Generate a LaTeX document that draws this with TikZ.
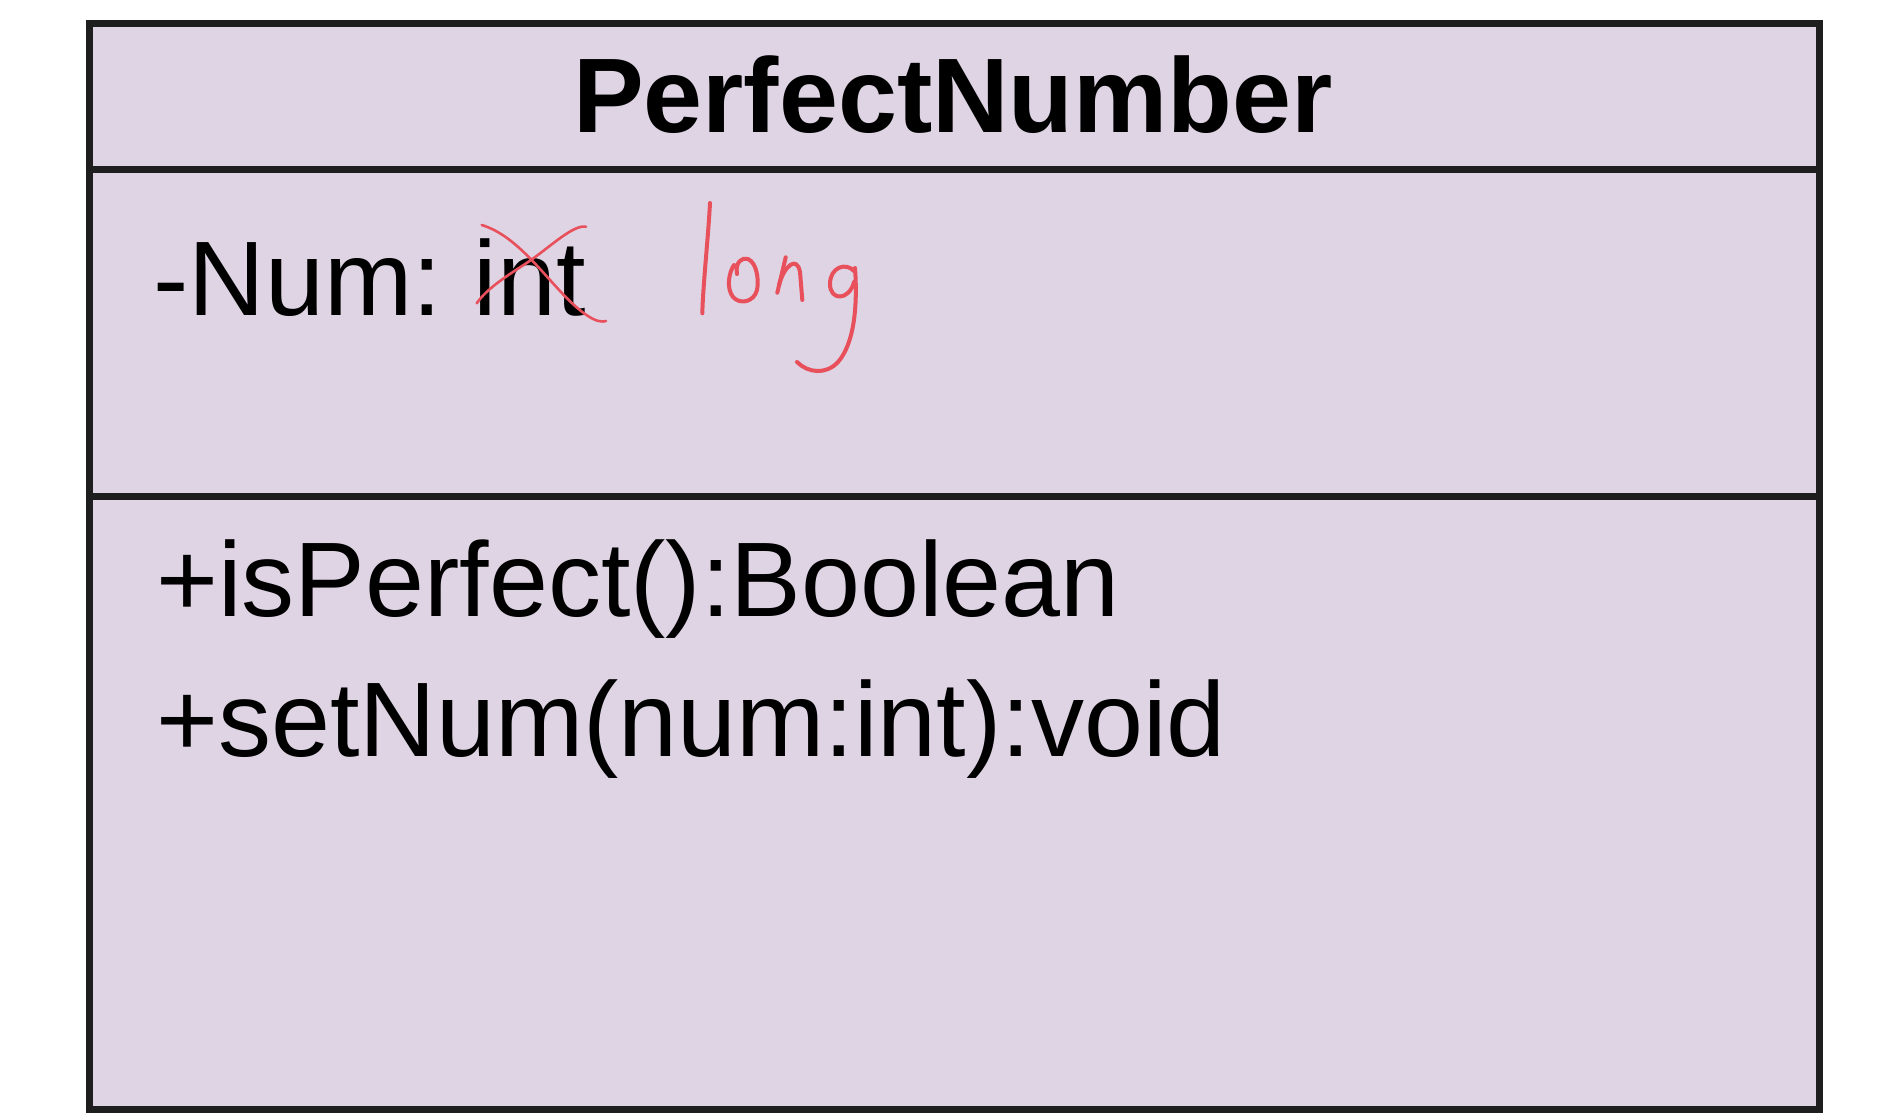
\documentclass[tikz,border=0pt]{standalone}
\usepackage{fontspec}
\setmainfont{Liberation Sans}
\definecolor{boxfill}{RGB}{223,212,228}
\definecolor{boxline}{RGB}{30,30,30}
\definecolor{pen}{RGB}{232,80,91}
\begin{document}
\begin{tikzpicture}[x=0.5pt,y=-0.5pt,
  umlbox/.style={draw=boxline,fill=boxfill,line width=3.5pt,inner sep=0pt,
     minimum width=865pt,minimum height=543pt,anchor=north west},
  divider/.style={draw=boxline,line width=3.5pt},
  member/.style={anchor=base west,inner sep=0pt,font=\fontsize{53}{60}\selectfont},
  title/.style={anchor=base,inner sep=0pt,font=\fontsize{53}{60}\selectfont\bfseries},
  ink/.style={draw=pen,line width=2pt,line cap=round,line join=round},
  thinink/.style={draw=pen,line width=1.3pt,line cap=round,line join=round}]
\useasboundingbox (0,0) rectangle (1888,1116);
\node[umlbox] (box) at (85.5,19.5) {};
\coordinate (d1l) at (85.5,169);
\coordinate (d1r) at (1815.5,169);
\coordinate (d2l) at (85.5,496);
\coordinate (d2r) at (1815.5,496);
\draw[divider] (d1l) -- (d1r);
\draw[divider] (d2l) -- (d2r);
\node[title] (name) at (953,132) {PerfectNumber};
\node[member] (attr) at (153,315) {-Num:\hspace{16pt}int};
\node[member] (op1) at (156,616) {+isPerfect():Boolean};
\node[member] (op2) at (156,756) {+setNum(num:int):void};
% cross over "int"
\draw[thinink] (481.7,225) .. controls (525,238) and (555,295) .. (588,316)
   .. controls (597,322) and (603,322) .. (606,321);
\draw[thinink] (586,226.7) .. controls (572,224) and (545,252) .. (522,266)
   .. controls (502,279) and (486,290) .. (476.7,303.3);
% handwritten "long"
\draw[ink] (710,203) .. controls (708,240) and (703,285) .. (702.3,313.3);
\draw[ink] (737,274) .. controls (735,262) and (742,257) .. (748,259)
   .. controls (757,263) and (759,280) .. (757,290)
   .. controls (754,302) and (740,305) .. (733,297)
   .. controls (726,288) and (729,272) .. (734,265);
\draw[ink] (785.7,257.3) -- (777.3,292.7);
\draw[ink] (779,285) .. controls (784,266) and (797,255) .. (800,272)
   -- (802.3,300);
\draw[ink] (854,271) .. controls (846,262) and (830,267) .. (830,284)
   .. controls (830,301) and (849,301) .. (854,282);
\draw[ink] (855,268) .. controls (858,310) and (853,345) .. (838,362)
   .. controls (826,375) and (808,373) .. (797,362);
\end{tikzpicture}
\end{document}
